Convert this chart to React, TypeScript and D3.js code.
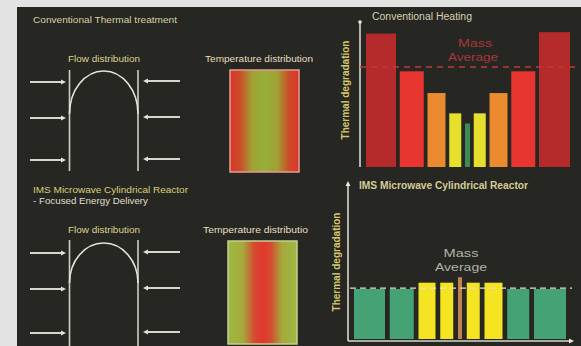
import React from "react";
import * as d3 from "d3";

// ---------- data ----------
const zones = ["wall L", "r4 L", "r3 L", "r2 L", "core", "r2 R", "r3 R", "r4 R", "wall R"];
const convValues = [92, 66, 51, 37, 30, 37, 51, 66, 93];
const convMass = [30, 24, 18, 12, 5, 12, 18, 24, 31];
const convColors = ["#b52a2b", "#e8352f", "#ec8a30", "#e6e02c", "#3f8a55", "#e6e02c", "#ec8a30", "#e8352f", "#b52a2b"];
const convAverage = 69;

const imsValues = [32.5, 32.5, 36.5, 36.5, 40, 36.5, 36.5, 32.5, 32.5];
const imsMass = [31, 24, 17, 13, 4, 13, 18, 22, 32];
const imsColors = ["#45a274", "#45a274", "#f4e422", "#f4e422", "#c4824e", "#f4e422", "#f4e422", "#45a274", "#45a274"];
const imsAverage = 33;

const FONT = "'Liberation Sans', Arial, sans-serif";

function layoutBars(mass: number[], gap: number, x0: number, x1: number) {
  const total = d3.sum(mass) + gap * (mass.length - 1);
  const x = d3.scaleLinear().domain([0, total]).range([x0, x1]);
  let acc = 0;
  return mass.map((m) => {
    const a = acc;
    acc += m + gap;
    return { x: x(a), w: x(a + m) - x(a) };
  });
}

function Arrow({ x1, x2, y }: { x1: number; x2: number; y: number }) {
  const dir = x2 > x1 ? 1 : -1;
  return (
    <g>
      <line x1={x1} y1={y} x2={x2 - dir * 3} y2={y} stroke="#d6d6d0" strokeWidth={1.8} />
      <path d={`M${x2},${y} L${x2 - dir * 5},${y - 2.5} L${x2 - dir * 5},${y + 2.5} Z`} fill="#e0e0da" />
    </g>
  );
}

function Flow({ top, arcTop, arcSide, bottom, arrows }: { top: number; arcTop: number; arcSide: number; bottom: number; arrows: number[] }) {
  const xl = 69.5, xr = 138;
  const rx = (xr - xl) / 2;
  const ry = arcSide - arcTop;
  return (
    <g>
      <line x1={xl} y1={top} x2={xl} y2={bottom} stroke="#cfcfc8" strokeWidth={1.6} />
      <line x1={xr} y1={top} x2={xr} y2={bottom} stroke="#cfcfc8" strokeWidth={1.6} />
      <path d={`M${xl},${arcSide} A${rx},${ry} 0 0 1 ${xr},${arcSide}`} fill="none" stroke="#e4e4dc" strokeWidth={1.6} />
      {arrows.map((y, i) => (
        <g key={i}>
          <Arrow x1={30} x2={66} y={y} />
          <Arrow x1={180} x2={143} y={y - 1} />
        </g>
      ))}
    </g>
  );
}

export default function App() {
  const convY = d3.scaleLinear().domain([0, 100]).range([167, 22]);
  const imsY = d3.scaleLinear().domain([0, 100]).range([340, 183]);
  const convBars = layoutBars(convMass, 3.75, 366, 570);
  const imsBars = layoutBars(imsMass, 4.75, 354, 566);

  return (
    <div style={{ position: "absolute", left: 0, top: 0 }}>
      <svg width={581} height={346} style={{ display: "block" }} fontFamily={FONT}>
        <defs>
          <linearGradient id="gTop" x1="0" x2="1" y1="0" y2="0">
            <stop offset="0%" stopColor="#d8382a" />
            <stop offset="14%" stopColor="#cc4a2a" />
            <stop offset="32%" stopColor="#a0a232" />
            <stop offset="50%" stopColor="#94b03a" />
            <stop offset="68%" stopColor="#a0a232" />
            <stop offset="86%" stopColor="#cc4a2a" />
            <stop offset="100%" stopColor="#d8382a" />
          </linearGradient>
          <linearGradient id="gBot" x1="0" x2="1" y1="0" y2="0">
            <stop offset="0%" stopColor="#9cba44" />
            <stop offset="22%" stopColor="#a6a83c" />
            <stop offset="38%" stopColor="#d44a30" />
            <stop offset="50%" stopColor="#e0382e" />
            <stop offset="62%" stopColor="#d44a30" />
            <stop offset="78%" stopColor="#a6a83c" />
            <stop offset="100%" stopColor="#9cba44" />
          </linearGradient>
        </defs>
        <rect x={0} y={0} width={581} height={346} fill="#e3e3e3" />
        <rect x={17} y={7} width={564} height={339} fill="#262622" />

        {/* top-left section */}
        <text x={33} y={23} fontSize={9} fill="#d6d0a4" textLength={144} lengthAdjust="spacingAndGlyphs">Conventional Thermal treatment</text>
        <text x={68} y={62} fontSize={9.5} fill="#ddd48e" textLength={72} lengthAdjust="spacingAndGlyphs">Flow distribution</text>
        <Flow top={70} arcTop={71} arcSide={114} bottom={171} arrows={[82, 118, 160]} />

        <text x={205} y={62} fontSize={9.5} fill="#e6dfc0" textLength={108} lengthAdjust="spacingAndGlyphs">Temperature distribution</text>
        <rect x={230} y={70} width={69} height={102} fill="url(#gTop)" stroke="#e69a96" strokeWidth={1.5} />

        {/* bottom-left section */}
        <text x={33} y={193} fontSize={9.5} fill="#d8d07a" textLength={155} lengthAdjust="spacingAndGlyphs">IMS Microwave Cylindrical Reactor</text>
        <text x={33} y={204} fontSize={9.5} fill="#e0dfd0" textLength={115} lengthAdjust="spacingAndGlyphs">- Focused Energy Delivery</text>
        <text x={68} y={233} fontSize={9.5} fill="#ddd48e" textLength={72} lengthAdjust="spacingAndGlyphs">Flow distribution</text>
        <Flow top={240} arcTop={243} arcSide={283} bottom={346} arrows={[253, 289, 333]} />

        <text x={203} y={233} fontSize={9.5} fill="#e6dfc0" textLength={105} lengthAdjust="spacingAndGlyphs">Temperature distributio</text>
        <rect x={228} y={241} width={69} height={103} fill="url(#gBot)" stroke="#c6d08e" strokeWidth={1.5} />

        {/* conventional heating chart */}
        <line x1={360} y1={22} x2={360} y2={167} stroke="#d8d8d0" strokeWidth={1.6} />
        <circle cx={360} cy={22} r={1.8} fill="#e8e8e0" />
        <text x={372} y={20} fontSize={10} fill="#d6d0b0" textLength={100} lengthAdjust="spacingAndGlyphs">Conventional Heating</text>
        <text transform="translate(349,90) rotate(-90)" fontSize={10} fontWeight="bold" fill="#d6c66a" textAnchor="middle">Thermal degradation</text>
        {convBars.map((b, i) => (
          <rect key={zones[i]} x={b.x} y={convY(convValues[i])} width={b.w} height={convY(0) - convY(convValues[i])} fill={convColors[i]} />
        ))}
        <line x1={360} x2={575} y1={convY(convAverage)} y2={convY(convAverage)} stroke="#c23a36" strokeWidth={1.4} strokeDasharray="6,5" />
        <text x={475} y={47} fontSize={11.5} fill="#a83838" textAnchor="middle" textLength={34} lengthAdjust="spacingAndGlyphs">Mass</text>
        <text x={473} y={61} fontSize={11.5} fill="#a83838" textAnchor="middle" textLength={50} lengthAdjust="spacingAndGlyphs">Average</text>

        {/* IMS chart */}
        <line x1={348} y1={184} x2={348} y2={341} stroke="#d8d8d0" strokeWidth={1.6} />
        <path d="M348,181 L345.5,186 L350.5,186 Z" fill="#e8e8e0" />
        <line x1={348} y1={341} x2={570} y2={341} stroke="#d8d8d0" strokeWidth={1.6} />
        <path d="M574,341 L569,338.5 L569,343.5 Z" fill="#e8e8e0" />
        <text x={359} y={189} fontSize={10} fontWeight="bold" fill="#d4cc96" textLength={169} lengthAdjust="spacingAndGlyphs">IMS Microwave Cylindrical Reactor</text>
        <text transform="translate(340,262) rotate(-90)" fontSize={10} fontWeight="bold" fill="#d6c66a" textAnchor="middle">Thermal degradation</text>
        {imsBars.map((b, i) => (
          <rect key={zones[i]} x={b.x} y={imsY(imsValues[i])} width={b.w} height={imsY(0) - imsY(imsValues[i]) - 1} fill={imsColors[i]} />
        ))}
        <line x1={350} x2={572} y1={imsY(imsAverage)} y2={imsY(imsAverage)} stroke="#e0e0d6" strokeWidth={1.3} strokeDasharray="6,4" />
        <text x={461} y={257} fontSize={11.5} fill="#b2b2a8" textAnchor="middle" textLength={35} lengthAdjust="spacingAndGlyphs">Mass</text>
        <text x={461} y={271} fontSize={11.5} fill="#b2b2a8" textAnchor="middle" textLength={52} lengthAdjust="spacingAndGlyphs">Average</text>
      </svg>
    </div>
  );
}
